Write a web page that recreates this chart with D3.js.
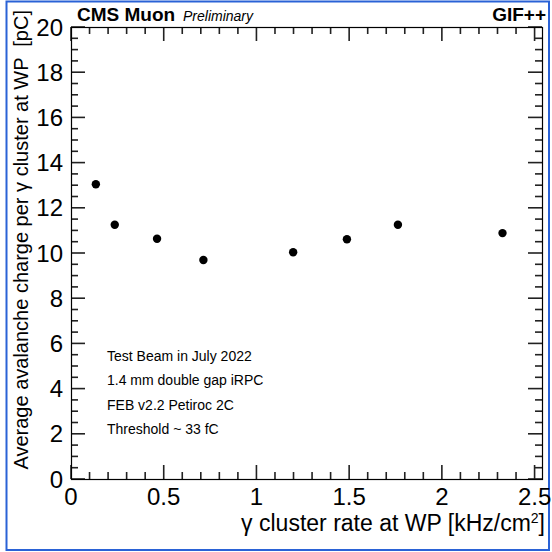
<!DOCTYPE html>
<html>
<head>
<meta charset="utf-8">
<script src="https://cdn.jsdelivr.net/npm/d3@7"></script>
<style>
  html, body { margin: 0; padding: 0; background: #fff; }
  svg { display: block; font-family: "Liberation Sans", Arial, sans-serif; }
</style>
</head>
<body>
<script>
// Measured γ cluster rate at working point [kHz/cm²]
const clusterRate = [0.134, 0.236, 0.464, 0.714, 1.198, 1.488, 1.763, 2.327];
// Average avalanche charge per γ cluster [pC]
const avgCharge = [13.04, 11.25, 10.63, 9.69, 10.03, 10.61, 11.25, 10.88];

const xTickValues = [0, 0.5, 1, 1.5, 2, 2.5];
const xTickLabels = ["0", "0.5", "1", "1.5", "2", "2.5"];
const yTickValues = [0, 2, 4, 6, 8, 10, 12, 14, 16, 18, 20];
const yTickLabels = ["0", "2", "4", "6", "8", "10", "12", "14", "16", "18", "20"];

const infoLines = [
  "Test Beam in July 2022",
  "1.4 mm double gap iRPC",
  "FEB v2.2 Petiroc 2C",
  "Threshold ~ 33 fC"
];

const W = 552, H = 552;
const frame = { left: 71, right: 542, top: 27, bottom: 479 };

const svg = d3.select("body").append("svg")
  .attr("width", W).attr("height", H);

svg.append("rect").attr("width", W).attr("height", H).attr("fill", "#fff");

// outer blue border
svg.append("rect")
  .attr("x", 6.5).attr("y", 1.5).attr("width", 542.5).attr("height", 548.5)
  .attr("fill", "none").attr("stroke", "#2a62d6").attr("stroke-width", 2);

const x = d3.scaleLinear().domain([0, 2.54]).range([frame.left, frame.right]);
const y = d3.scaleLinear().domain([0, 20]).range([frame.bottom, frame.top]);

const majLen = 14, minLen = 7, tw = 1.6;

const xMinor = d3.range(0, 26).map(i => i / 10).filter(v => !xTickValues.some(t => Math.abs(t - v) < 1e-6));
const yMinor = d3.range(0, 41).map(i => i / 2).filter(v => !yTickValues.includes(v));

// inward-pointing ticks on all four sides, as thin rectangles
const tickRects = [];
function vTicks(vals, len) {
  vals.forEach(v => {
    tickRects.push({ x: x(v) - tw / 2, y: frame.bottom - len, w: tw, h: len });
    tickRects.push({ x: x(v) - tw / 2, y: frame.top, w: tw, h: len });
  });
}
function hTicks(vals, len) {
  vals.forEach(v => {
    tickRects.push({ x: frame.left, y: y(v) - tw / 2, w: len, h: tw });
    tickRects.push({ x: frame.right - len, y: y(v) - tw / 2, w: len, h: tw });
  });
}
vTicks(xTickValues, majLen);
vTicks(xMinor, minLen);
hTicks(yTickValues, majLen);
hTicks(yMinor, minLen);
svg.append("g").selectAll("rect").data(tickRects).join("rect")
  .attr("x", d => d.x).attr("y", d => d.y)
  .attr("width", d => d.w).attr("height", d => d.h)
  .attr("fill", "#222");

// frame
svg.append("rect")
  .attr("x", frame.left + 0.5).attr("y", frame.top + 0.5)
  .attr("width", frame.right - frame.left).attr("height", frame.bottom - frame.top)
  .attr("fill", "none").attr("stroke", "#000").attr("stroke-width", 1.2);

// tick labels
svg.append("g").selectAll("text").data(xTickValues).join("text")
  .attr("x", d => x(d)).attr("y", 505)
  .attr("text-anchor", "middle").attr("font-size", 24).attr("fill", "#000")
  .text((d, i) => xTickLabels[i]);

svg.append("g").selectAll("text").data(yTickValues).join("text")
  .attr("x", 63).attr("y", d => y(d) + 8.5)
  .attr("text-anchor", "end").attr("font-size", 24).attr("fill", "#000")
  .text((d, i) => yTickLabels[i]);

// axis titles
const xt = svg.append("text")
  .attr("x", 545).attr("y", 531)
  .attr("text-anchor", "end").attr("font-size", 23).attr("fill", "#000");
xt.append("tspan").text("γ cluster rate at WP [kHz/cm");
xt.append("tspan").attr("font-size", 14).attr("dy", -8).text("2");
xt.append("tspan").attr("dy", 8).text("]");

svg.append("text")
  .attr("transform", "translate(28,10) rotate(-90)")
  .attr("text-anchor", "end").attr("font-size", 20).attr("fill", "#000")
  .attr("xml:space", "preserve")
  .text("Average avalanche charge per γ cluster at WP  [pC]");

// header
svg.append("text").attr("x", 77).attr("y", 21)
  .attr("font-size", 19).attr("font-weight", "bold").text("CMS Muon");
svg.append("text").attr("x", 183).attr("y", 21)
  .attr("font-size", 14).attr("font-style", "italic").text("Preliminary");
svg.append("text").attr("x", 546).attr("y", 21)
  .attr("text-anchor", "end").attr("font-size", 19).attr("font-weight", "bold").text("GIF++");

// info text block
svg.append("g").selectAll("text").data(infoLines).join("text")
  .attr("x", 107).attr("y", (d, i) => 361 + i * 24.3)
  .attr("font-size", 14).attr("fill", "#000")
  .text(d => d);

// data points
svg.append("g").selectAll("circle").data(clusterRate).join("circle")
  .attr("cx", d => x(d)).attr("cy", (d, i) => y(avgCharge[i]))
  .attr("r", 4.2).attr("fill", "#000");
</script>
</body>
</html>
